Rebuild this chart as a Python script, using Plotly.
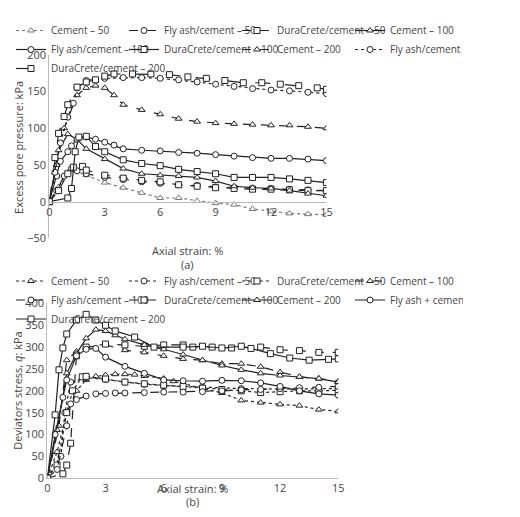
import plotly.graph_objects as go

# ---- (a) excess pore pressure ----
a_c50_x = [0,0.5,1,1.3,2,3,4,5,6,7,8,9,10,11,12,13,14,15]
a_c50_y = [0,20,40,43,36,26,19,12,5,5,1,-2,-4,-10,-13,-16,-17,-18]
a_c100_x = [0,0.3,0.5,1,1.5,2,3,4,5,6,7,8,9,10,11,12,13,14,15]
a_c100_y = [0,40,70,92,85,72,58,45,38,36,35,33,28,21,19,18,15,11,8]
a_c200_x = [0,0.4,0.8,1.5,2,2.5,3,3.5,4,5,6,7,8,9,10,11,12,13,14,15]
a_c200_y = [0,50,100,145,155,158,155,145,132,125,119,113,109,107,106,105,104,104,102,100]
a_f50_x = [0,0.4,0.8,1.2,1.5,2,3,4,5,6,7,8,9,10,11,12,13,14,15]
a_f50_y = [0,15,35,45,42,38,33,30,27,25,23,22,20,19,18,18,17,16,15]
a_f100_x = [0,0.4,0.6,1,1.2,1.5,2,2.5,3,3.5,4,5,6,7,8,9,10,11,12,13,14,15]
a_f100_y = [0,35,55,68,76,85,88,85,81,77,72,70,69,67,66,64,62,60,59,59,58,56]
a_f200_x = [0,0.3,0.6,1,1.3,1.5,2,3,4,5,6,7,8,9,10,11,12,13,14,15]
a_f200_y = [0,40,80,115,134,155,165,168,169,169,168,166,163,160,157,154,152,151,149,147]
a_d50_x = [0,0.5,1,1.3,1.8,2,3,4,5,6,7,8,9,10,11,12,13,14,15]
a_d50_y = [0,15,38,47,48,43,36,32,29,27,23,21,19,18,17,17,16,15,15]
a_d100_x = [0,1,1.2,1.4,1.6,2,2.5,3,4,5,6,7,8,9,10,11,12,13,14,15]
a_d100_y = [0,5,18,68,88,89,75,68,57,52,49,44,41,38,33,33,33,31,29,26]
a_d200_x = [0,0.3,0.5,0.8,1,1.5,2,2.5,3,3.5,4.5,5.5,6.5,7.5,8.5,9.5,10.5,11.5,12.5,13.5,14.5,15]
a_d200_y = [0,60,93,116,132,156,163,166,171,174,174,174,173,170,168,165,162,162,160,158,155,153]

# ---- (b) deviator stress ----
b_c50_x = [0,0.5,1,1.5,2,2.5,3,3.5,4,4.5,5,6,6.5,8,9,10,11,12,13,14,15]
b_c50_y = [0,60,150,200,225,233,236,238,238,237,234,228,222,205,195,178,173,169,166,157,153]
b_c100_x = [0,0.6,1,1.5,2,3,4,5,6,7,8,9,10,11,12,13,14,15]
b_c100_y = [0,120,270,290,300,305,293,288,280,273,270,262,262,255,243,232,228,222]
b_c200_x = [0,0.5,1,1.5,2,2.5,3,3.5,4,5,6,7,8,9,10,11,12,13,14,15]
b_c200_y = [0,110,240,285,320,340,337,327,318,305,295,283,270,258,248,240,235,232,228,220]
b_f50_x = [0,0.7,0.9,1.2,2,3,4,5,6,8,10,12,15]
b_f50_y = [0,50,150,220,230,226,220,215,212,208,205,204,205]
b_f100_x = [0,0.5,1,1.2,1.5,2,2.5,3,3.5,4,5,6,7,8,9,10,11,12,13,14,15]
b_f100_y = [0,20,120,170,180,188,193,194,195,195,196,197,197,198,200,202,203,205,207,208,210]
b_f200_x = [0,0.4,0.8,1,1.5,2,2.5,3,4,5,6,7,8,9,10,11,12,13,14,15]
b_f200_y = [0,100,185,225,280,295,297,277,256,240,225,223,222,224,223,218,210,200,193,190]
b_d50_x = [0,0.5,1,1.3,1.8,2,3,4,5,6,7,8,9,10,11,12,13,14,15]
b_d50_y = [0,30,150,200,232,233,227,220,216,213,210,206,203,200,196,198,200,200,201]
b_d100_x = [0,0.8,1,1.2,1.5,2,3,4,5,6,7,7.5,8.5,9.5,11,12,13,14,15]
b_d100_y = [0,10,30,80,280,300,307,305,302,305,305,300,300,298,300,294,292,288,288]
b_d200_x = [0,0.4,0.6,0.8,1,1.5,2,2.5,3,3.5,4.5,5.5,7,8,9,10,10.5,11.5,12.5,13.5,14.5,15]
b_d200_y = [0,145,248,298,330,362,375,362,350,337,323,300,300,302,298,302,297,285,275,270,272,273]

FONT = "Open Sans"
fig = go.Figure()

def add(x, y, name, sym, dash, color, xa, ya, leg, width=1.2):
    fig.add_trace(go.Scatter(
        x=x, y=y, name=name, mode="lines+markers", xaxis=xa, yaxis=ya, legend=leg,
        line=dict(color=color, dash=dash, width=width),
        marker=dict(symbol=sym, size=6, color="white", line=dict(color=color, width=1))))

G = "#777"; K = "#222"
add(a_c50_x, a_c50_y, "Cement – 50", "triangle-up", "dot", G, "x", "y", "legend")
add(a_f50_x, a_f50_y, "Fly ash/cement – 50", "circle", "dash", K, "x", "y", "legend")
add(a_d50_x, a_d50_y, "DuraCrete/cement – 50", "square", "dash", K, "x", "y", "legend")
add(a_c100_x, a_c100_y, "Cement – 100", "triangle-up", "solid", K, "x", "y", "legend")
add(a_f100_x, a_f100_y, "Fly ash/cement – 100", "circle", "solid", K, "x", "y", "legend")
add(a_d100_x, a_d100_y, "DuraCrete/cement – 100", "square", "solid", K, "x", "y", "legend")
add(a_c200_x, a_c200_y, "Cement – 200", "triangle-up", "dash", K, "x", "y", "legend")
add(a_f200_x, a_f200_y, "Fly ash/cement – 200", "circle", "dot", K, "x", "y", "legend")
add(a_d200_x, a_d200_y, "DuraCrete/cement – 200", "square", "longdash", K, "x", "y", "legend")

add(b_c50_x, b_c50_y, "Cement – 50", "triangle-up", "dot", K, "x2", "y2", "legend2")
add(b_f50_x, b_f50_y, "Fly ash/cement – 50", "circle", "dot", K, "x2", "y2", "legend2")
add(b_d50_x, b_d50_y, "DuraCrete/cement – 50", "square", "dot", K, "x2", "y2", "legend2")
add(b_c100_x, b_c100_y, "Cement – 100", "triangle-up", "dash", K, "x2", "y2", "legend2")
add(b_f100_x, b_f100_y, "Fly ash/cement – 100", "circle", "dash", K, "x2", "y2", "legend2")
add(b_d100_x, b_d100_y, "DuraCrete/cement – 100", "square", "dash", K, "x2", "y2", "legend2")
add(b_c200_x, b_c200_y, "Cement – 200", "triangle-up", "solid", K, "x2", "y2", "legend2")
add(b_f200_x, b_f200_y, "Fly ash + cement – 200", "circle", "solid", K, "x2", "y2", "legend2")
add(b_d200_x, b_d200_y, "DuraCrete/cement – 200", "square", "solid", K, "x2", "y2", "legend2")

ax = dict(showgrid=False, zeroline=False, showline=True, linecolor="#bbb", linewidth=1,
          ticks="", tickfont=dict(size=11, color="#444", family=FONT))
ytop = [1-40/517, 1-229/517]
pos0 = ytop[0] - (200/250)*(ytop[0]-ytop[1])
legstyle = dict(orientation="h", x=0.0, xanchor="left", yanchor="top",
                entrywidth=68, entrywidthmode="pixels", tracegroupgap=0, itemwidth=30,
                font=dict(size=10, color="#444", family=FONT), bgcolor="rgba(0,0,0,0)")
fig.update_layout(
    width=520, height=517, margin=dict(l=0, r=0, t=0, b=0),
    plot_bgcolor="white", paper_bgcolor="white",
    font=dict(family=FONT, size=11, color="#444"),
    xaxis=dict(ax, domain=[39/520, 321/520], range=[0, 15], tickvals=[0,3,6,9,12,15], anchor="free", position=pos0),
    yaxis=dict(ax, domain=[ytop[1], ytop[0]], range=[-50, 200], tickvals=[-50,0,50,100,150,200], anchor="x"),
    xaxis2=dict(ax, domain=[37/520, 333/520], range=[0, 15], tickvals=[0,3,6,9,12,15], anchor="y2"),
    yaxis2=dict(ax, domain=[1-476/517, 1-296/517], range=[0, 400], dtick=50, anchor="x2"),
    legend=dict(legstyle, y=1.0),
    legend2=dict(legstyle, y=1-258/517),
    annotations=[
        dict(text="Axial strain: %", x=180/520, y=1-242/517, xref="paper", yref="paper", showarrow=False),
        dict(text="(a)", x=180/520, y=1-256/517, xref="paper", yref="paper", showarrow=False),
        dict(text="Axial strain: %", x=185/520, y=1-496/517, xref="paper", yref="paper", showarrow=False),
        dict(text="(b)", x=185/520, y=1-510/517, xref="paper", yref="paper", showarrow=False),
        dict(text="Excess pore pressure: kPa", x=7/520, y=1-135/517, xref="paper", yref="paper",
             xanchor="center", yanchor="middle", showarrow=False, textangle=-90),
        dict(text="Deviators stress, <i>q</i>: kPa", x=7/520, y=1-386/517, xref="paper", yref="paper",
             xanchor="center", yanchor="middle", showarrow=False, textangle=-90),
    ],
)
fig.write_html("out.html")
